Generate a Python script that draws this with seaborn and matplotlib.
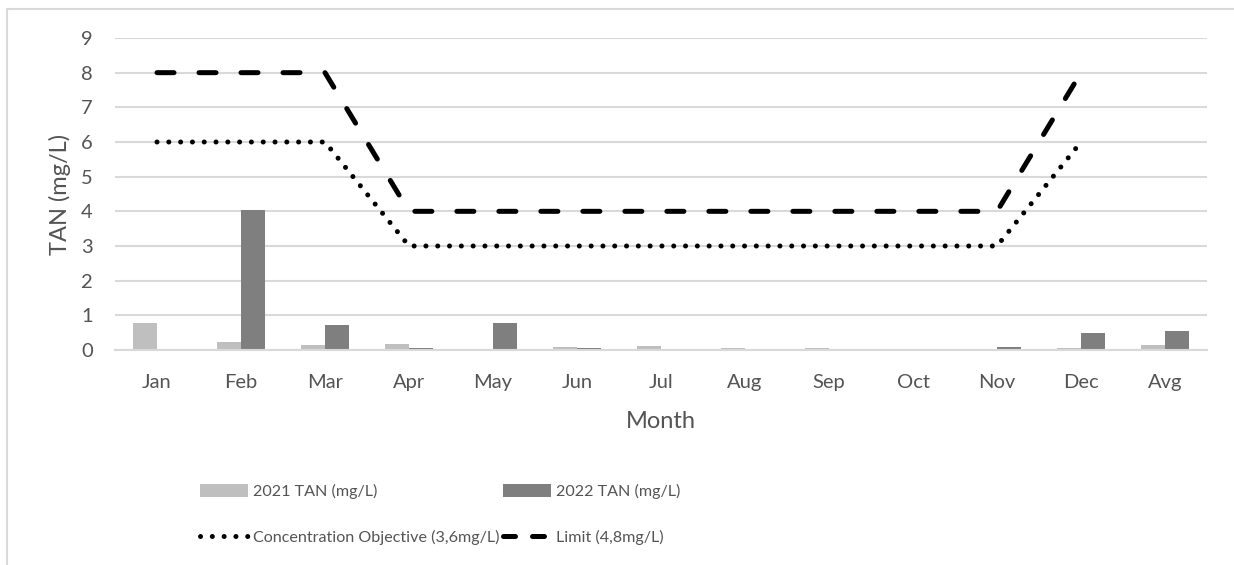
import numpy as np
import pandas as pd
import matplotlib
matplotlib.use("Agg")
import matplotlib.pyplot as plt
import seaborn as sns
from matplotlib.lines import Line2D
from matplotlib.patches import Patch, Rectangle

# Monthly total ammonia nitrogen (TAN) readings
months = ["Jan", "Feb", "Mar", "Apr", "May", "Jun", "Jul",
          "Aug", "Sep", "Oct", "Nov", "Dec", "Avg"]
tan_2021 = [0.78, 0.22, 0.14, 0.16, 0.03, 0.08, 0.12,
            0.05, 0.05, 0.03, 0.03, 0.05, 0.15]
tan_2022 = [0.01, 4.05, 0.72, 0.07, 0.79, 0.06, 0.02,
            0.03, 0.03, 0.04, 0.10, 0.48, 0.54]

# Seasonal thresholds (Jan..Dec)
objective = [6, 6, 6, 3, 3, 3, 3, 3, 3, 3, 3, 6]
limit = [8, 8, 8, 4, 4, 4, 4, 4, 4, 4, 4, 8]

series_labels = ["2021 TAN (mg/L)", "2022 TAN (mg/L)"]
objective_label = "Concentration Objective (3,6mg/L)"
limit_label = "Limit (4,8mg/L)"

sns.set_theme(style="white")
plt.rcParams["font.family"] = ["Lato", "DejaVu Sans"]

text_color = "#545454"
grid_color = "#d9d9d9"
c2021 = "#bfbfbf"
c2022 = "#7f7f7f"
dotted = (0, (0.01, 2.35))
dashed = (0, (3.4, 5.0))
dashed_key = (0, (2.4, 3.4))

df = pd.DataFrame({
    "Month": months * 2,
    "TAN": tan_2021 + tan_2022,
    "Series": [series_labels[0]] * len(months) + [series_labels[1]] * len(months),
})

W, H = 1234, 565
fig = plt.figure(figsize=(W / 100, H / 100), dpi=100)
ax = fig.add_axes([115 / W, 1 - 350 / H, (1207 - 115) / W, (350 - 38) / H])

sns.barplot(data=df, x="Month", y="TAN", hue="Series", order=months,
            hue_order=series_labels, palette=[c2021, c2022], width=0.572,
            gap=0, linewidth=0, edgecolor="none", legend=False, ax=ax)

xpos = np.arange(len(objective))
sns.lineplot(x=xpos, y=objective, ax=ax, color="black", lw=3.6,
             linestyle=dotted, legend=False)
sns.lineplot(x=xpos, y=limit, ax=ax, color="black", lw=3.6,
             linestyle=dashed, legend=False)
for ln in ax.lines:
    ln.set_dash_capstyle("round")
    ln.set_solid_capstyle("round")

ax.set_xlim(-0.5, len(months) - 0.5)
ax.set_ylim(0, 9)
ax.set_yticks(range(0, 10))
ax.yaxis.grid(True, color=grid_color, lw=1.5)
ax.set_axisbelow(True)
for side in ["top", "right", "left"]:
    ax.spines[side].set_visible(False)
ax.spines["bottom"].set_color(grid_color)
ax.spines["bottom"].set_linewidth(1.5)
ax.tick_params(axis="both", length=0, labelsize=14.5, colors=text_color)
ax.tick_params(axis="y", pad=16)
ax.tick_params(axis="x", pad=17)
ax.set_xlabel("Month", fontsize=17, color=text_color)
ax.set_ylabel("TAN (mg/L)", fontsize=17, color=text_color)
ax.xaxis.set_label_coords(0.5, (350 - 411) / 312)
ax.yaxis.set_label_coords((71 - 115) / 1092, 0.5)

handles = [
    Patch(facecolor=c2021, edgecolor="none", label=series_labels[0]),
    Line2D([], [], color="black", lw=3.6, linestyle=dotted,
           dash_capstyle="round", label=objective_label),
    Patch(facecolor=c2022, edgecolor="none", label=series_labels[1]),
    Line2D([], [], color="black", lw=3.6, linestyle=dashed_key,
           dash_capstyle="round", label=limit_label),
]
leg = fig.legend(handles=handles, ncol=2, loc="center left",
                 bbox_to_anchor=(200 / W, 1 - 514.5 / H), frameon=False,
                 fontsize=11.6, handlelength=3.0, handleheight=0.8,
                 handletextpad=0.3, columnspacing=0.2, labelspacing=1.9,
                 borderpad=0, borderaxespad=0)
for t in leg.get_texts():
    t.set_color(text_color)

# Chart-area border
fig.patches.append(Rectangle((7 / W, -0.1), 1.2, 1 - 9 / H + 0.1,
                             transform=fig.transFigure, fill=False,
                             edgecolor=grid_color, lw=1.5, zorder=0))

fig.savefig("out.png", dpi=100)
